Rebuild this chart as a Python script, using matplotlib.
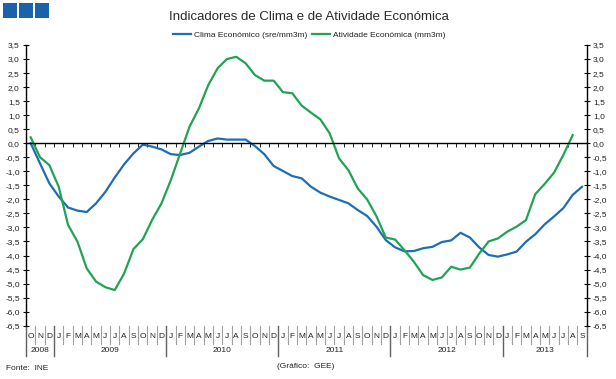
import matplotlib
matplotlib.use("Agg")
import matplotlib.pyplot as plt
from matplotlib.lines import Line2D
from matplotlib.patches import Rectangle
import numpy as np

plt.rcParams['font.family'] = ['Liberation Sans', 'DejaVu Sans']

# ---- data (monthly, Oct 2008 .. Sep 2013) ----
month_labels = (["O", "N", "D"] +
                ["J", "F", "M", "A", "M", "J", "J", "A", "S", "O", "N", "D"] * 4 +
                ["J", "F", "M", "A", "M", "J", "J", "A", "S"])
years = ["2008", "2009", "2010", "2011", "2012", "2013"]
year_starts = [0, 3, 15, 27, 39, 51, 60]

clima = [0.0, -0.72, -1.43, -1.90, -2.29, -2.40, -2.45, -2.14, -1.73, -1.22, -0.75, -0.36,
         -0.05, -0.12, -0.22, -0.39, -0.42, -0.34, -0.12, 0.08, 0.17, 0.13, 0.13, 0.13,
         -0.10, -0.39, -0.81, -0.99, -1.17, -1.25, -1.55, -1.76, -1.90, -2.02, -2.14, -2.38,
         -2.59, -2.97, -3.45, -3.71, -3.85, -3.84, -3.74, -3.69, -3.52, -3.46, -3.19, -3.36,
         -3.71, -3.98, -4.04, -3.96, -3.86, -3.51, -3.24, -2.89, -2.61, -2.31, -1.84, -1.55]

atividade = [0.21, -0.50, -0.78, -1.55, -2.91, -3.50, -4.46, -4.93, -5.13, -5.23, -4.64, -3.77,
             -3.42, -2.73, -2.14, -1.31, -0.36, 0.59, 1.24, 2.07, 2.67, 3.00, 3.08, 2.85,
             2.43, 2.23, 2.23, 1.82, 1.78, 1.34, 1.09, 0.85, 0.35, -0.54, -0.96, -1.61,
             -2.00, -2.60, -3.36, -3.43, -3.81, -4.22, -4.70, -4.87, -4.78, -4.40, -4.50, -4.43,
             -3.93, -3.50, -3.39, -3.15, -2.97, -2.74, -1.81, -1.45, -1.05, -0.42, 0.29]

series_names = ["Clima Económico (sre/mm3m)", "Atividade Económica (mm3m)"]
colors = ["#1f6db3", "#22a354"]

W, H = 616, 379
fig = plt.figure(figsize=(W / 100, H / 100), dpi=100)
fig.patch.set_facecolor("white")

ax_l, ax_r, ax_t, ax_b = 26, 586.7, 45, 325.7
ax = fig.add_axes([ax_l / W, 1 - ax_b / H, (ax_r - ax_l) / W, (ax_b - ax_t) / H])

n = len(month_labels)
x_c = np.arange(len(clima)) + 0.5
x_a = np.arange(len(atividade)) + 0.5
l1, = ax.plot(x_c, clima, color=colors[0], lw=1.6, solid_joinstyle='round')
l2, = ax.plot(x_a, atividade, color=colors[1], lw=1.6, solid_joinstyle='round')

ax.set_xlim(0, n)
ax.set_ylim(-6.5, 3.5)
yt = np.arange(-6.5, 3.51, 0.5)
ax.set_yticks(yt)
ax.set_yticklabels([f"{v:.1f}".replace(".", ",") for v in yt])
ax.tick_params(axis='y', direction='inout', length=5, width=0.8, labelsize=6,
               labelcolor='#222222', left=True, right=True, labelleft=True, labelright=True, pad=2)

ax.spines['top'].set_visible(False)
ax.spines['bottom'].set_position(('data', 0))
ax.spines['bottom'].set_linewidth(1.0)
ax.spines['left'].set_linewidth(1.0)
ax.spines['right'].set_linewidth(1.0)
ax.set_xticks(np.arange(0, n + 1))
ax.tick_params(axis='x', direction='out', length=3, width=0.6, labelbottom=False)

# category labels under the plot
tx = ax.get_xaxis_transform()
def fy(px):
    return (ax_b - px) / (ax_b - ax_t)

for i, m in enumerate(month_labels):
    ax.text(i + 0.5, fy(337), m, transform=tx, ha='center', va='center',
            fontsize=6, color='#222222', clip_on=False)
for i in range(1, n):
    if i in year_starts:
        continue
    ax.add_line(Line2D([i, i], [fy(326), fy(344)], transform=tx, color='#a0a0a0',
                       lw=0.8, clip_on=False))
for ys in year_starts:
    ax.add_line(Line2D([ys, ys], [fy(325.7), fy(356)], transform=tx, color='#606060',
                       lw=1.0, clip_on=False))
for k, yr in enumerate(years):
    ax.text((year_starts[k] + year_starts[k + 1]) / 2, fy(351), yr, transform=tx,
            ha='center', va='center', fontsize=6, color='#222222', clip_on=False)

# title and legend
fig.text(309 / W, 1 - 17 / H, "Indicadores de Clima e de Atividade Económica",
         ha='center', va='center', fontsize=9.5, color='#2a2a2a')
fig.legend([l1, l2], series_names, loc='center', bbox_to_anchor=(309 / W, 1 - 35 / H),
           ncol=2, frameon=False, fontsize=6, handlelength=2.2, handletextpad=0.3,
           columnspacing=0.6, labelcolor='#222222')

# logo squares
for x0 in [3, 19, 35]:
    fig.patches.append(Rectangle((x0 / W, 1 - 18 / H), 14 / W, 15 / H,
                                 transform=fig.transFigure, facecolor='#1b62aa',
                                 edgecolor='none'))

fig.text(6 / W, 1 - 369 / H, "Fonte:  INE", ha='left', va='center', fontsize=6, color='#222222')
fig.text(306 / W, 1 - 367 / H, "(Gráfico:  GEE)", ha='center', va='center', fontsize=6,
         color='#222222')

fig.savefig("out.png", dpi=100, facecolor='white')
